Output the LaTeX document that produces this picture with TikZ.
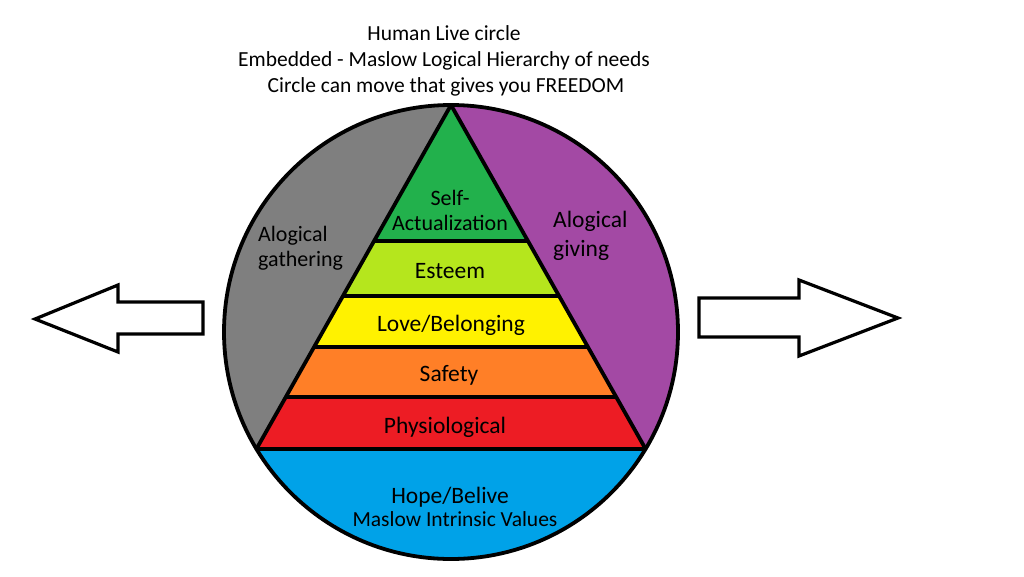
\documentclass[tikz,border=0pt]{standalone}
\usepackage{fontspec}
\setmainfont{Carlito}
\usetikzlibrary{calc}
\definecolor{cgray}{HTML}{7F7F7F}
\definecolor{cpurple}{HTML}{A349A4}
\definecolor{cgreen}{HTML}{22B14C}
\definecolor{clime}{HTML}{B5E61D}
\definecolor{cyellow}{HTML}{FFF200}
\definecolor{corange}{HTML}{FF7F27}
\definecolor{cred}{HTML}{ED1C24}
\definecolor{cblue}{HTML}{00A2E8}
\begin{document}
\begin{tikzpicture}[x=1pt,y=-1pt,
  outline/.style={line width=3.8pt,line join=round},
  bigarrow/.style={draw,fill=white,line width=3.2pt,line join=miter},
  title/.style={font=\fontsize{21.5}{24}\selectfont,inner sep=0pt,anchor=base},
  lbl/.style={font=\fontsize{23.5}{26}\selectfont,inner sep=0pt,anchor=base},
  small/.style={font=\fontsize{21.5}{24}\selectfont,inner sep=0pt,anchor=base}]
\useasboundingbox (0,0) rectangle (1024,576);
\fill[white] (0,0) rectangle (1024,576);
% geometry (y axis points down: angle -90 is the top)
\coordinate (C) at (451,332);
\coordinate (A) at ($(C)+(-90:227)$);
\coordinate (BL) at ($(C)+(149:227)$);
\coordinate (BR) at ($(C)+(31:227)$);
% side regions
\fill[cgray] (A) arc[start angle=-90,end angle=-211,radius=227] -- cycle;
\fill[cpurple] (A) arc[start angle=-90,end angle=31,radius=227] -- cycle;
\fill[cblue] (BL) arc[start angle=149,end angle=31,radius=227] -- cycle;
% pyramid bands
\coordinate (L1) at ($(A)!0.395!(BL)$); \coordinate (R1) at ($(A)!0.395!(BR)$);
\coordinate (L2) at ($(A)!0.555!(BL)$); \coordinate (R2) at ($(A)!0.555!(BR)$);
\coordinate (L3) at ($(A)!0.703!(BL)$); \coordinate (R3) at ($(A)!0.703!(BR)$);
\coordinate (L4) at ($(A)!0.849!(BL)$); \coordinate (R4) at ($(A)!0.849!(BR)$);
\fill[cgreen] (A) -- (L1) -- (R1) -- cycle;
\fill[clime] (L1) -- (L2) -- (R2) -- (R1) -- cycle;
\fill[cyellow] (L2) -- (L3) -- (R3) -- (R2) -- cycle;
\fill[corange] (L3) -- (L4) -- (R4) -- (R3) -- cycle;
\fill[cred] (L4) -- (BL) -- (BR) -- (R4) -- cycle;
% outlines
\draw[outline] (A) -- (BL) -- (BR) -- cycle;
\draw[outline] (L1) -- (R1);
\draw[outline] (L2) -- (R2);
\draw[outline] (L3) -- (R3);
\draw[outline] (L4) -- (R4);
\draw[outline] (C) circle[radius=227];
% arrows
\draw[bigarrow] (35,319) -- (118,285) -- (118,302) -- (203,302) -- (203,334) -- (118,334) -- (118,352) -- cycle;
\draw[bigarrow] (898,318) -- (799,280) -- (799,298) -- (699,298) -- (699,337) -- (799,337) -- (799,356) -- cycle;
% title
\node[title] (t1) at (444,40) {Human Live circle};
\node[title] (t2) at (444,66) {Embedded - Maslow Logical Hierarchy of needs};
\node[title] (t3) at (446,92) {Circle can move that gives you FREEDOM};
% pyramid labels
\node[lbl,font=\fontsize{22}{24}\selectfont] (sa1) at (450,205) {Self-};
\node[lbl,font=\fontsize{22}{24}\selectfont] (sa2) at (450,230) {Actualization};
\node[lbl] (es) at (450,278) {Esteem};
\node[lbl] (lb) at (451,331) {Love/Belonging};
\node[lbl] (sf) at (449,381) {Safety};
\node[lbl] (ph) at (445,433) {Physiological};
\node[lbl] (hb) at (450,503) {Hope/Belive};
\node[small] (mi) at (455,526) {Maslow Intrinsic Values};
% side labels
\node[lbl,font=\fontsize{22}{24}\selectfont,anchor=base west] (ag1) at (258,241) {Alogical};
\node[lbl,font=\fontsize{22}{24}\selectfont,anchor=base west] (ag2) at (258,266) {gathering};
\node[lbl,anchor=base west] (ai1) at (553,227) {Alogical};
\node[lbl,anchor=base west] (ai2) at (553,256) {giving};
\end{tikzpicture}
\end{document}
